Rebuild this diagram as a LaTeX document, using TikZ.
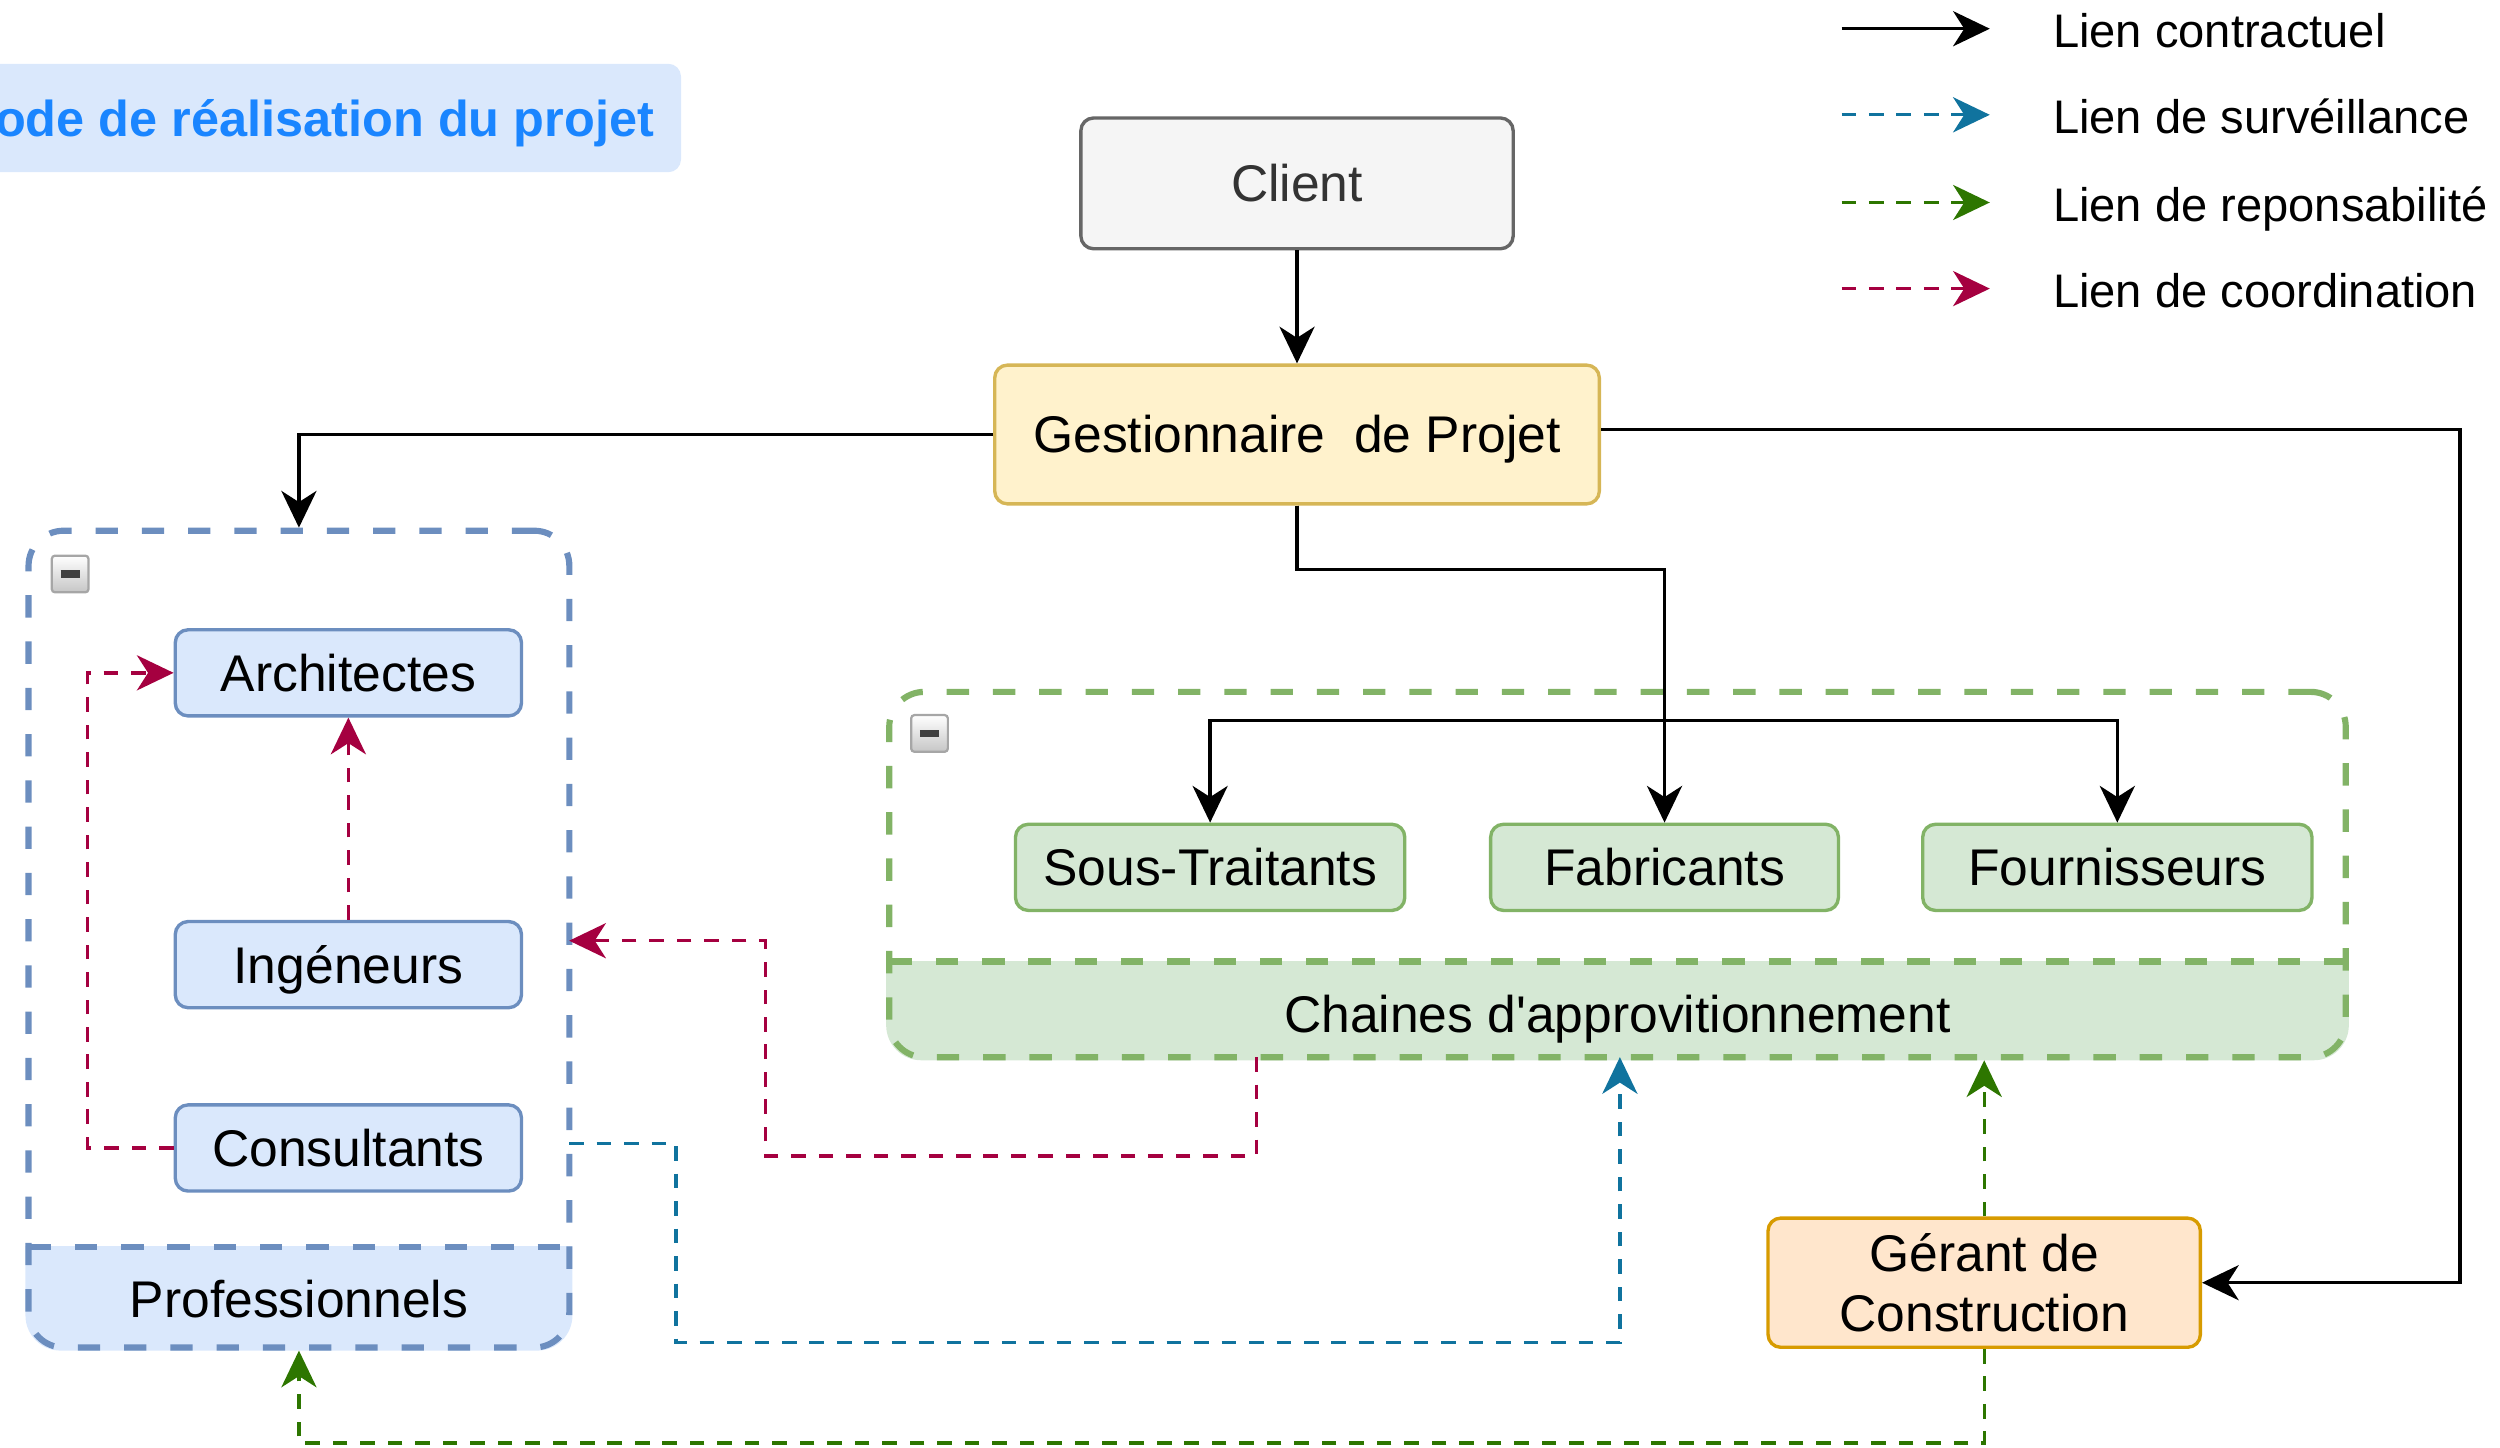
\documentclass[tikz,border=0pt]{standalone}
\usepackage{fontspec}
\setmainfont{Liberation Sans}
\usepackage{xcolor}
\usepackage{tikz}
\usetikzlibrary{arrows.meta,backgrounds}

\definecolor{bluefill}{HTML}{DAE8FC}
\definecolor{bluestroke}{HTML}{6C8EBF}
\definecolor{greenfill}{HTML}{D5E8D4}
\definecolor{greenstroke}{HTML}{82B366}
\definecolor{yellowfill}{HTML}{FFF2CC}
\definecolor{yellowstroke}{HTML}{D6B656}
\definecolor{orangefill}{HTML}{FFE6CC}
\definecolor{orangestroke}{HTML}{D79B00}
\definecolor{greyfill}{HTML}{F5F5F5}
\definecolor{greystroke}{HTML}{666666}
\definecolor{greytext}{HTML}{333333}
\definecolor{titleblue}{HTML}{1A85FF}
\definecolor{coordred}{HTML}{A50040}
\definecolor{watchblue}{HTML}{10739E}
\definecolor{dutygreen}{HTML}{2D7600}

\tikzset{
  tip/.tip={Stealth[length=0.23cm, width=0.22cm, inset=0.07cm]},
  box/.style={draw, rounded corners=0.08cm, line width=0.6pt, inner sep=0pt,
    text height=6.6pt, text depth=0pt},
  bluebox/.style={box, draw=bluestroke, fill=bluefill, minimum width=2.17cm, minimum height=0.54cm},
  greenbox/.style={box, draw=greenstroke, fill=greenfill, minimum height=0.54cm},
  group/.style={draw, dash pattern=on 0.14cm off 0.15cm, line width=1.1pt,
    rounded corners=0.22cm, inner sep=0pt},
  groupline/.style={dash pattern=on 0.14cm off 0.15cm, line width=1.1pt},
  grouplabel/.style={inner sep=0pt, text height=6.6pt, text depth=0pt},
  minusbox/.style={draw=gray!70, top color=white, bottom color=gray!45, minimum size=0.23cm,
    inner sep=0pt, rounded corners=0.02cm,
    path picture={\draw[line width=1.3pt, black!75]
      ([xshift=-0.06cm]path picture bounding box.center) --
      ([xshift=0.06cm]path picture bounding box.center);}},
  contract/.style={line width=0.6pt, -tip},
  watch/.style={draw=watchblue, line width=0.6pt, dash pattern=on 2.6pt off 2.3pt, -tip},
  duty/.style={draw=dutygreen, line width=0.6pt, dash pattern=on 2.6pt off 2.3pt, -tip},
  coord/.style={draw=coordred, line width=0.6pt, dash pattern=on 2.6pt off 2.3pt, -tip},
  legendtext/.style={anchor=west, inner sep=0pt, font=\fontsize{8.4}{10}\selectfont,
    text height=6.1pt, text depth=0pt}
}

\begin{document}
\begin{tikzpicture}[x=0.01cm, y=-0.01cm, font=\fontsize{9.2}{10.8}\selectfont]
    \useasboundingbox (0,0) rectangle (1568,908);
    \clip (0,0) rectangle (1568,908);

    \coordinate (BK1) at (1543,500);
    \coordinate (BK2) at (1044,357);
    \coordinate (BK3) at (1044,452);

    \coordinate (RD1) at (55,600);
    \coordinate (RD2) at (788,663);
    \coordinate (RD3) at (480,725);
    \coordinate (RD4) at (357,590);

    \coordinate (BL1) at (357,717);
    \coordinate (BL2) at (424,842);
    \coordinate (BL3) at (1016,663);

    \coordinate (GR1) at (187.5,905);

    % title
    \node[fill=bluefill, rounded corners=0.08cm, minimum width=4.47cm, minimum height=0.68cm,
      inner sep=0pt, text=titleblue, font=\bfseries\fontsize{9}{10.8}\selectfont,
      text height=6.5pt, text depth=0pt] (TIT) at (203.5,74) {ode de réalisation du projet};

    % groups
    \node[group, draw=bluestroke, minimum width=3.39cm, minimum height=5.12cm] (PRO) at (187.5,589) {};
    \node[group, draw=greenstroke, minimum width=9.13cm, minimum height=2.29cm] (CHA) at (1014.5,548.5) {};
    \begin{scope}[on background layer]
      \begin{scope}
        \clip (0,782) rectangle (400,908);
        \fill[bluefill, rounded corners=0.22cm] (PRO.south west) rectangle (PRO.north east);
      \end{scope}
      \begin{scope}
        \clip (540,603) rectangle (1500,700);
        \fill[greenfill, rounded corners=0.22cm] (CHA.south west) rectangle (CHA.north east);
      \end{scope}
    \end{scope}
    \draw[groupline, bluestroke] (18,782) -- (357,782);
    \draw[groupline, greenstroke] (558,603) -- (1471,603);
    \node[grouplabel] (PROl) at (187.5,815) {Professionnels};
    \node[grouplabel] (CHAl) at (1014.5,636) {Chaines d\textquotesingle approvitionnement};
    \node[minusbox] (PROm) at (44,360) {};
    \node[minusbox] (CHAm) at (583,460) {};

    % boxes
    \node[box, draw=greystroke, fill=greyfill, text=greytext, minimum width=2.71cm, minimum height=0.82cm] (CL) at (813.5,115) {Client};
    \node[box, draw=yellowstroke, fill=yellowfill, minimum width=3.79cm, minimum height=0.87cm] (GP) at (813.5,272.5) {Gestionnaire\ \ de Projet};

    \node[bluebox] (ARC) at (218.5,422) {Architectes};
    \node[bluebox] (ING) at (218.5,605) {Ingéneurs};
    \node[bluebox] (CON) at (218.5,720) {Consultants};

    \node[greenbox, minimum width=2.44cm] (ST) at (759,544) {Sous-Traitants};
    \node[greenbox, minimum width=2.18cm] (FAB) at (1044,544) {Fabricants};
    \node[greenbox, minimum width=2.44cm] (FOU) at (1328,544) {Fournisseurs};

    \node[box, draw=orangestroke, fill=orangefill, minimum width=2.71cm, minimum height=0.81cm,
      text height=, text depth=, align=center] (GC) at (1244.5,804.5) {Gérant de\\Construction};

    % contract links
    \draw[contract] (CL.south) -- (GP.north);
    \draw[contract] (GP.west) -| (PRO.north);
    \draw[contract] ([yshift=0.03cm]GP.east) -| (BK1) |- (GC.east);
    \draw[contract] (GP.south) |- (BK2) -- (FAB.north);
    \draw[contract] (GP.south) |- (BK2) -- (BK3) -| (ST.north);
    \draw[contract] (GP.south) |- (BK2) -- (BK3) -| (FOU.north);

    % coordination links
    \draw[coord] (ING.north) -- (ARC.south);
    \draw[coord] (CON.west) -| (RD1) |- (ARC.west);
    \draw[coord] (RD2) |- (RD3) |- (RD4);

    % surveillance link
    \draw[watch] (BL1) -| (BL2) -| (BL3);

    % responsibility links
    \draw[duty] (GC.north) -- (GC.north |- CHA.south);
    \draw[duty] (GC.south) |- (GR1) -- (PRO.south);

    % legend
    \coordinate (LG1a) at (1155,18);
    \coordinate (LG1b) at (1248,18);
    \coordinate (LG2a) at (1155,72);
    \coordinate (LG2b) at (1248,72);
    \coordinate (LG3a) at (1155,127);
    \coordinate (LG3b) at (1248,127);
    \coordinate (LG4a) at (1155,181);
    \coordinate (LG4b) at (1248,181);
    \draw[contract] (LG1a) -- (LG1b);
    \draw[watch] (LG2a) -- (LG2b);
    \draw[duty] (LG3a) -- (LG3b);
    \draw[coord] (LG4a) -- (LG4b);
    \node[legendtext] (LT1) at (1287,19) {Lien contractuel};
    \node[legendtext] (LT2) at (1287,73) {Lien de surv\'eillance};
    \node[legendtext] (LT3) at (1287,128) {Lien de reponsabilité};
    \node[legendtext] (LT4) at (1287,182) {Lien de coordination};
\end{tikzpicture}
\end{document}
